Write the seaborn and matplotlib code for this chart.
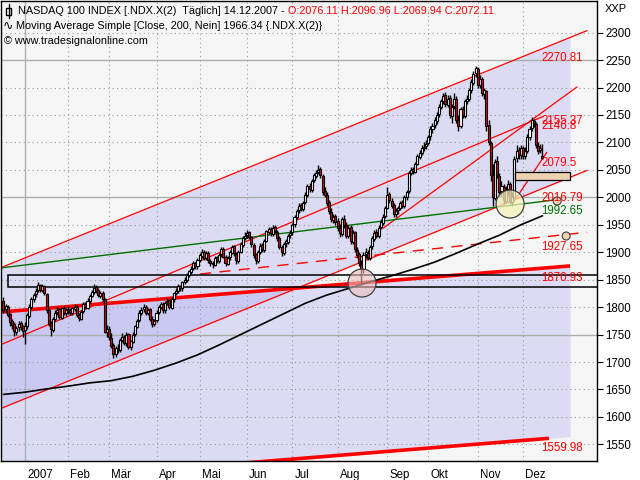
import numpy as np
import pandas as pd
import matplotlib
matplotlib.use("Agg")
import matplotlib.pyplot as plt
import matplotlib.transforms as mtrans
import seaborn as sns
from matplotlib.patches import Rectangle, Ellipse
from matplotlib.lines import Line2D

sns.set_style("white")
plt.rcParams['font.family'] = ['Liberation Sans', 'DejaVu Sans']

# ---------------- data (daily candles, 15.12.2006 - 14.12.2007) ----------------
opens = [1812, 1796, 1800, 1787, 1774, 1769, 1755, 1763, 1771, 1765,
         1758, 1766, 1784, 1801, 1814, 1823, 1831, 1841, 1831, 1839, 1824, 1794, 1771, 1759, 1779, 1791, 1796, 1781, 1799, 1789,
         1796, 1794, 1789, 1797, 1801, 1786, 1779, 1793, 1806, 1799, 1811, 1821, 1827, 1836, 1831, 1821, 1826, 1814, 1754,
         1761, 1744, 1731, 1714, 1726, 1721, 1741, 1746, 1734, 1751, 1727, 1737, 1751, 1764, 1776, 1789, 1796, 1801, 1789, 1796, 1779, 1769,
         1776, 1791, 1801, 1806, 1794, 1809, 1813, 1799, 1814, 1826, 1829, 1839, 1834, 1846, 1849, 1859, 1864, 1871, 1881, 1874,
         1886, 1894, 1901, 1889, 1899, 1884, 1881, 1877, 1891, 1884, 1896, 1906, 1891, 1879, 1891, 1899, 1911, 1897, 1884, 1901, 1914, 1926,
         1931, 1936, 1927, 1914, 1896, 1884, 1901, 1913, 1904, 1921, 1937, 1943, 1934, 1946, 1937, 1926, 1909, 1899, 1916, 1919, 1931,
         1936, 1951, 1964, 1976, 1986, 1979, 1991, 2004, 2021, 2014, 2031, 2039, 2046, 2051, 2039, 2011, 2004, 1991, 1974, 1959, 1966,
         1956, 1944, 1934, 1961, 1949, 1929, 1946, 1919, 1936, 1904, 1896, 1879, 1869, 1896, 1899, 1889, 1911, 1924, 1936, 1929, 1946, 1954, 1966,
         1981, 2006, 1994, 1986, 1969, 1976, 1981, 1991, 1984, 2001, 2011, 2044, 2051, 2047, 2061, 2074, 2081, 2089, 2093,
         2099, 2111, 2124, 2131, 2139, 2151, 2164, 2176, 2186, 2169, 2181, 2149, 2166, 2179, 2141, 2129, 2161, 2149, 2176, 2179, 2196, 2209, 2226,
         2234, 2204, 2216, 2189, 2194, 2131, 2099, 2041, 1999, 2066, 2039, 2011, 2019, 1994, 2016, 2024, 1991, 2001, 2071, 2086, 2077,
         2089, 2076, 2084, 2109, 2126, 2139, 2134, 2094, 2086, 2076.11]
highs = [1818, 1806, 1803, 1790, 1778, 1772, 1765, 1774, 1775, 1768,
         1772, 1790, 1805, 1818, 1826, 1835, 1845, 1843, 1842, 1841, 1826, 1797, 1775, 1782, 1794, 1800, 1798, 1801, 1802, 1799,
         1802, 1798, 1801, 1805, 1803, 1790, 1795, 1810, 1809, 1816, 1824, 1832, 1842, 1840, 1834, 1829, 1829, 1816, 1768,
         1765, 1752, 1735, 1730, 1733, 1744, 1752, 1750, 1754, 1753, 1741, 1754, 1768, 1779, 1794, 1800, 1806, 1804, 1799, 1798, 1783, 1779,
         1794, 1804, 1809, 1810, 1811, 1816, 1815, 1818, 1828, 1834, 1842, 1841, 1848, 1854, 1862, 1868, 1874, 1884, 1883, 1890,
         1899, 1905, 1904, 1902, 1902, 1888, 1884, 1894, 1894, 1898, 1909, 1910, 1895, 1894, 1904, 1914, 1914, 1900, 1904, 1919, 1930, 1937,
         1940, 1939, 1930, 1917, 1899, 1904, 1916, 1916, 1924, 1941, 1946, 1946, 1949, 1950, 1940, 1929, 1913, 1919, 1924, 1934, 1940,
         1954, 1968, 1979, 1989, 1990, 1994, 2009, 2024, 2026, 2034, 2044, 2050, 2058, 2055, 2043, 2018, 2010, 1995, 1980, 1970, 1970,
         1962, 1952, 1965, 1968, 1955, 1950, 1950, 1940, 1938, 1910, 1900, 1885, 1900, 1908, 1904, 1914, 1929, 1940, 1942, 1949, 1960, 1969, 1984,
         2018, 2010, 1998, 1990, 1980, 1985, 1994, 1996, 2004, 2014, 2048, 2056, 2055, 2064, 2079, 2086, 2095, 2100, 2104,
         2114, 2130, 2136, 2146, 2155, 2170, 2180, 2190, 2192, 2186, 2186, 2170, 2190, 2184, 2150, 2165, 2166, 2180, 2186, 2200, 2215, 2230, 2240,
         2238, 2222, 2220, 2200, 2196, 2140, 2102, 2060, 2070, 2075, 2045, 2030, 2025, 2020, 2032, 2028, 2010, 2075, 2095, 2092, 2096,
         2094, 2092, 2115, 2130, 2146, 2143, 2137, 2100, 2098, 2096.96]
lows = [1790, 1789, 1782, 1765, 1760, 1748, 1750, 1757, 1759, 1745,
        1732, 1760, 1780, 1797, 1810, 1818, 1828, 1828, 1828, 1822, 1790, 1765, 1748, 1755, 1774, 1786, 1778, 1778, 1785, 1784,
        1788, 1785, 1786, 1793, 1782, 1774, 1776, 1790, 1796, 1796, 1808, 1818, 1824, 1826, 1818, 1817, 1810, 1752, 1745,
        1740, 1725, 1707, 1710, 1716, 1718, 1736, 1731, 1730, 1724, 1722, 1735, 1748, 1762, 1772, 1786, 1792, 1786, 1785, 1774, 1764, 1765,
        1772, 1787, 1797, 1790, 1790, 1804, 1796, 1796, 1810, 1822, 1826, 1830, 1830, 1842, 1845, 1855, 1860, 1868, 1870, 1870,
        1882, 1890, 1886, 1886, 1880, 1874, 1872, 1875, 1881, 1880, 1892, 1889, 1875, 1876, 1886, 1896, 1894, 1878, 1880, 1898, 1910, 1922,
        1926, 1924, 1910, 1890, 1878, 1880, 1896, 1900, 1900, 1918, 1933, 1930, 1930, 1935, 1920, 1905, 1893, 1895, 1910, 1915, 1926,
        1932, 1946, 1960, 1972, 1975, 1975, 1988, 2000, 2010, 2010, 2027, 2035, 2042, 2036, 2005, 2000, 1985, 1970, 1955, 1954, 1950,
        1938, 1928, 1930, 1944, 1925, 1925, 1915, 1915, 1900, 1890, 1875, 1840, 1862, 1890, 1885, 1885, 1905, 1920, 1926, 1925, 1942, 1950, 1962,
        1978, 1990, 1980, 1965, 1964, 1970, 1976, 1980, 1980, 1996, 2008, 2040, 2042, 2044, 2058, 2070, 2077, 2084, 2088,
        2095, 2105, 2118, 2126, 2134, 2146, 2160, 2170, 2165, 2164, 2145, 2135, 2160, 2135, 2120, 2126, 2145, 2145, 2170, 2175, 2190, 2205, 2220,
        2200, 2200, 2185, 2180, 2120, 2095, 2030, 1985, 1995, 2035, 2000, 2000, 1988, 1990, 2005, 1988, 1985, 1998, 2064, 2070, 2070,
        2070, 2070, 2080, 2105, 2120, 2128, 2090, 2078, 2080, 2069.94]
closes = [1795, 1802, 1786, 1772, 1768, 1756, 1762, 1770, 1764, 1757,
          1765, 1785, 1800, 1815, 1822, 1830, 1840, 1832, 1838, 1825, 1795, 1770, 1760, 1778, 1790, 1795, 1782, 1798, 1790, 1795,
          1795, 1790, 1798, 1800, 1785, 1780, 1792, 1805, 1800, 1812, 1820, 1828, 1835, 1830, 1822, 1825, 1815, 1755, 1760,
          1745, 1730, 1715, 1725, 1722, 1740, 1745, 1735, 1750, 1728, 1738, 1750, 1765, 1775, 1790, 1795, 1800, 1790, 1795, 1778, 1770, 1775,
          1790, 1800, 1805, 1795, 1808, 1812, 1800, 1815, 1825, 1830, 1838, 1835, 1845, 1850, 1858, 1865, 1870, 1880, 1875, 1885,
          1895, 1900, 1890, 1898, 1885, 1880, 1878, 1890, 1885, 1895, 1905, 1892, 1880, 1890, 1900, 1910, 1898, 1885, 1900, 1915, 1925, 1930,
          1935, 1928, 1915, 1895, 1885, 1900, 1912, 1905, 1920, 1938, 1942, 1935, 1945, 1938, 1925, 1910, 1900, 1915, 1920, 1930, 1935,
          1950, 1965, 1975, 1985, 1980, 1990, 2005, 2020, 2015, 2030, 2040, 2045, 2050, 2040, 2010, 2005, 1990, 1975, 1960, 1965, 1955,
          1945, 1935, 1960, 1950, 1930, 1945, 1920, 1935, 1905, 1895, 1880, 1870, 1895, 1900, 1890, 1910, 1925, 1935, 1930, 1945, 1955, 1965, 1980,
          2005, 1995, 1985, 1970, 1975, 1980, 1990, 1985, 2000, 2010, 2045, 2050, 2048, 2060, 2075, 2080, 2090, 2092, 2098,
          2110, 2125, 2130, 2140, 2150, 2165, 2175, 2185, 2170, 2180, 2150, 2165, 2180, 2140, 2130, 2160, 2150, 2175, 2180, 2195, 2210, 2225, 2235,
          2205, 2215, 2190, 2195, 2130, 2100, 2040, 2000, 2065, 2040, 2010, 2020, 1995, 2015, 2025, 1992, 2000, 2070, 2085, 2078, 2090,
          2075, 2085, 2110, 2125, 2140, 2135, 2095, 2085, 2090, 2072.11]

# 200-day simple moving average, read every 10 trading days
ma_days = [0, 10, 20, 30, 40, 50, 60, 70, 80, 90, 100, 110, 120, 130, 140, 150, 160, 170, 180, 190, 200, 210, 220, 230, 240, 250]
ma_vals = [1641, 1645, 1651, 1656, 1662, 1666, 1674, 1685, 1698, 1713, 1731, 1750, 1769, 1788, 1807, 1822, 1834, 1846, 1857, 1869, 1882, 1898, 1915, 1931, 1950, 1966.34]

month_days = [10, 30, 49, 71, 91, 113, 134, 155, 178, 197, 220, 241]
month_labels = ["2007", "Feb", "Mär", "Apr", "Mai", "Jun", "Jul", "Aug", "Sep", "Okt", "Nov", "Dez"]
price_ticks = list(range(1550, 2301, 50))

# drawn trend lines: (day start, value start, day end, value end)
upper_line = (-1.6, 1871.2, 270.7, 2303.7)
line_a = (-1.6, 1731.0, 250.0, 2146.8)
line_b = (-1.6, 1614.7, 270.7, 2049.0)
line_c = (176.0, 1943.5, 266.0, 2201.0)
line_d = (236.3, 1989.6, 252.0, 2082.0)
green_line = (-1.6, 1871.2, 256.8, 1995.7)
dashed_line = (91.2, 1860.3, 270.7, 1936.4)
thick_upper = (-1.6, 1791.0, 262.8, 1875.0)
thick_lower = (-1.6, 1480.0, 253.0, 1561.0)
channel_end = 262.8

end_labels = ["2270.81", "2155.37", "2146.8", "2079.5", "2016.79", "1992.65", "1927.65", "1870.93", "1559.98"]
end_values = [2270.81, 2155.37, 2146.8, 2079.5, 2016.79, 1992.65, 1927.65, 1870.93, 1559.98]
end_colors = ["red", "red", "red", "red", "red", "#007000", "red", "red", "red"]

box_zone = (2.1, 1836, 276.0, 1858)
tan_zone = (237.3, 2032, 262.8, 2046)
pink_circle = (166.3, 1843.9)
yellow_circle = (235.0, 1987.8)
small_circles = [(256.8, 1993.3), (261.0, 1929.5)]

# ---------------- figure ----------------
W, H = 640, 480
fig = plt.figure(figsize=(6.4, 4.8), dpi=100)
fig.patch.set_facecolor("white")
ax = fig.add_axes([1 / W, 19 / H, 596 / W, 460 / H])
ax.set_facecolor("#f5f5f5")
XMIN, XMAX = -1.13, 275.3
YMIN, YMAX = 1519.7, 2357.6
ax.set_xlim(XMIN, XMAX)
ax.set_ylim(YMIN, YMAX)

px_day = 596 / (XMAX - XMIN)
px_val = 460 / (YMAX - YMIN)


def line_at(line, d):
    d0, v0, d1, v1 = line
    return v0 + (v1 - v0) * (np.asarray(d) - d0) / (d1 - d0)


# channel fills
fill_rgb = (160 / 255, 160 / 255, 240 / 255)
dd = np.array([upper_line[0], channel_end])
ax.fill_between(dd, line_at(line_b, dd), line_at(upper_line, dd), color=fill_rgb, alpha=0.3, lw=0, zorder=0.5)
ax.fill_between(dd, line_at(thick_lower, dd), line_at(thick_upper, dd), color=fill_rgb, alpha=0.3, lw=0, zorder=0.5)

# grid
for v in price_ticks:
    if v in (1750, 2000, 2250):
        ax.axhline(v, color="#a9b0a9", lw=1.0, zorder=0.8)
    else:
        ax.axhline(v, color="#9a9a9a", lw=0.8, ls=(0, (1, 3)), zorder=0.8)
for k, d in enumerate(month_days):
    if k == 0:
        ax.axvline(d, color="#a9b0b9", lw=1.0, zorder=0.8)
    else:
        ax.axvline(d, color="#9a9a9a", lw=0.8, ls=(0, (1, 3)), zorder=0.8)

# box zone
b0, bv0, b1, bv1 = box_zone
ax.add_patch(Rectangle((b0, bv0), b1 - b0, bv1 - bv0, fill=False, ec="black", lw=1.1, zorder=2.5))


def draw(line, **kw):
    d0, v0, d1, v1 = line
    ax.plot([d0, d1], [v0, v1], **kw)


for ln in (upper_line, line_a, line_b, line_c, line_d):
    draw(ln, color="red", lw=0.9, zorder=2)
draw(green_line, color="#007000", lw=1.0, zorder=2)
draw(dashed_line, color="red", lw=1.0, ls=(0, (8, 6)), zorder=2)
draw(thick_upper, color="red", lw=2.6, zorder=2.2, solid_capstyle="butt")
draw(thick_lower, color="red", lw=2.6, zorder=2.2, solid_capstyle="butt")

# moving average via seaborn
ma_df = pd.DataFrame({"day": ma_days, "ma": ma_vals})
sns.lineplot(data=ma_df, x="day", y="ma", ax=ax, color="black", lw=1.2, zorder=2.3)

# candles
days = np.arange(len(closes))
o = np.array(opens, float); h = np.array(highs, float)
l = np.array(lows, float); c = np.array(closes, float)
ax.vlines(days, l, h, color="black", lw=1.0, zorder=3)
up = c >= o
body_lo = np.minimum(o, c)
body_h = np.maximum(np.abs(c - o), 1.5)
ax.bar(days[up], body_h[up], bottom=body_lo[up], width=0.95, color="white", edgecolor="black", lw=0.8, zorder=3.2)
ax.bar(days[~up], body_h[~up], bottom=body_lo[~up], width=0.95, color="#e0001c", edgecolor="black", lw=0.8, zorder=3.2)

# tan rectangle
t0, tv0, t1, tv1 = tan_zone
ax.add_patch(Rectangle((t0, tv0), t1 - t0, tv1 - tv0, fc="#ecd2b0", ec="black", lw=0.9, zorder=3.5))

# circles
cw, ch = 28 / px_day, 28 / px_val
ax.add_patch(Ellipse(pink_circle, cw, ch, fc=(0.93, 0.75, 0.75, 0.6), ec="#404040", lw=0.9, zorder=4))
ax.add_patch(Ellipse(yellow_circle, cw, ch, fc=(0.97, 0.95, 0.72, 0.75), ec="#404040", lw=0.9, zorder=4))
for sc in small_circles:
    ax.add_patch(Ellipse(sc, 8 / px_day, 8 / px_val, fc="#ecd2b0", ec="#404040", lw=0.8, zorder=4))

# end labels
for txt, val, col in zip(end_labels, end_values, end_colors):
    ax.annotate(txt, xy=(249.5, val), xytext=(0, -2.5), textcoords="offset points",
                ha="left", va="top", color=col, fontsize=8.3, zorder=5)

# axes styling
ax.yaxis.tick_right()
ax.set_yticks(price_ticks)
ax.set_yticklabels([str(v) for v in price_ticks], fontsize=8.3)
ax.set_xticks(month_days)
ax.set_xticklabels(month_labels, fontsize=8.3, ha="left")
ax.tick_params(axis="y", direction="out", length=4, width=0.8, pad=2, colors="black")
ax.tick_params(axis="x", direction="out", length=4, width=0.8, pad=2, colors="black")
offset = mtrans.ScaledTranslation(2 / 100, 0, fig.dpi_scale_trans)
for lab in ax.get_xticklabels():
    lab.set_transform(lab.get_transform() + offset)
ax.set_xlabel("")
ax.set_ylabel("")
for sp in ax.spines.values():
    sp.set_visible(True)
    sp.set_color("black")
    sp.set_linewidth(1.0)


def fy(y):
    return 1 - y / H


fs = 7.8
t1 = fig.text(18 / W, fy(11), "NASDAQ 100 INDEX [.NDX.X(2)  Täglich] 14.12.2007 - ", fontsize=fs,
              va="center", ha="left", color="black")
fig.canvas.draw()
bb = t1.get_window_extent()
fig.text(bb.x1 / W, fy(11), "O:2076.11 H:2096.96 L:2069.94 C:2072.11", fontsize=fs, va="center", ha="left",
         color="red")
fig.text(16 / W, fy(26), "Moving Average Simple [Close, 200, Nein] 1966.34 {.NDX.X(2)}", fontsize=fs,
         va="center", ha="left", color="black")
fig.text(3 / W, fy(26), "∿", fontsize=9, va="center", ha="left", color="black", family=["DejaVu Sans"])
fig.text(4 / W, fy(41), "© www.tradesignalonline.com", fontsize=fs, va="center", ha="left", color="black")
fig.text(605 / W, fy(9), "XXP", fontsize=8.0, va="center", ha="left", color="black")
fig.add_artist(Line2D([8.5 / W, 8.5 / W], [fy(4), fy(18)], color="black", lw=1, transform=fig.transFigure))
fig.add_artist(Rectangle((6 / W, fy(15)), 5 / W, 7 / H, fc="white", ec="black", lw=1, transform=fig.transFigure))

fig.savefig("out.png", dpi=100)
